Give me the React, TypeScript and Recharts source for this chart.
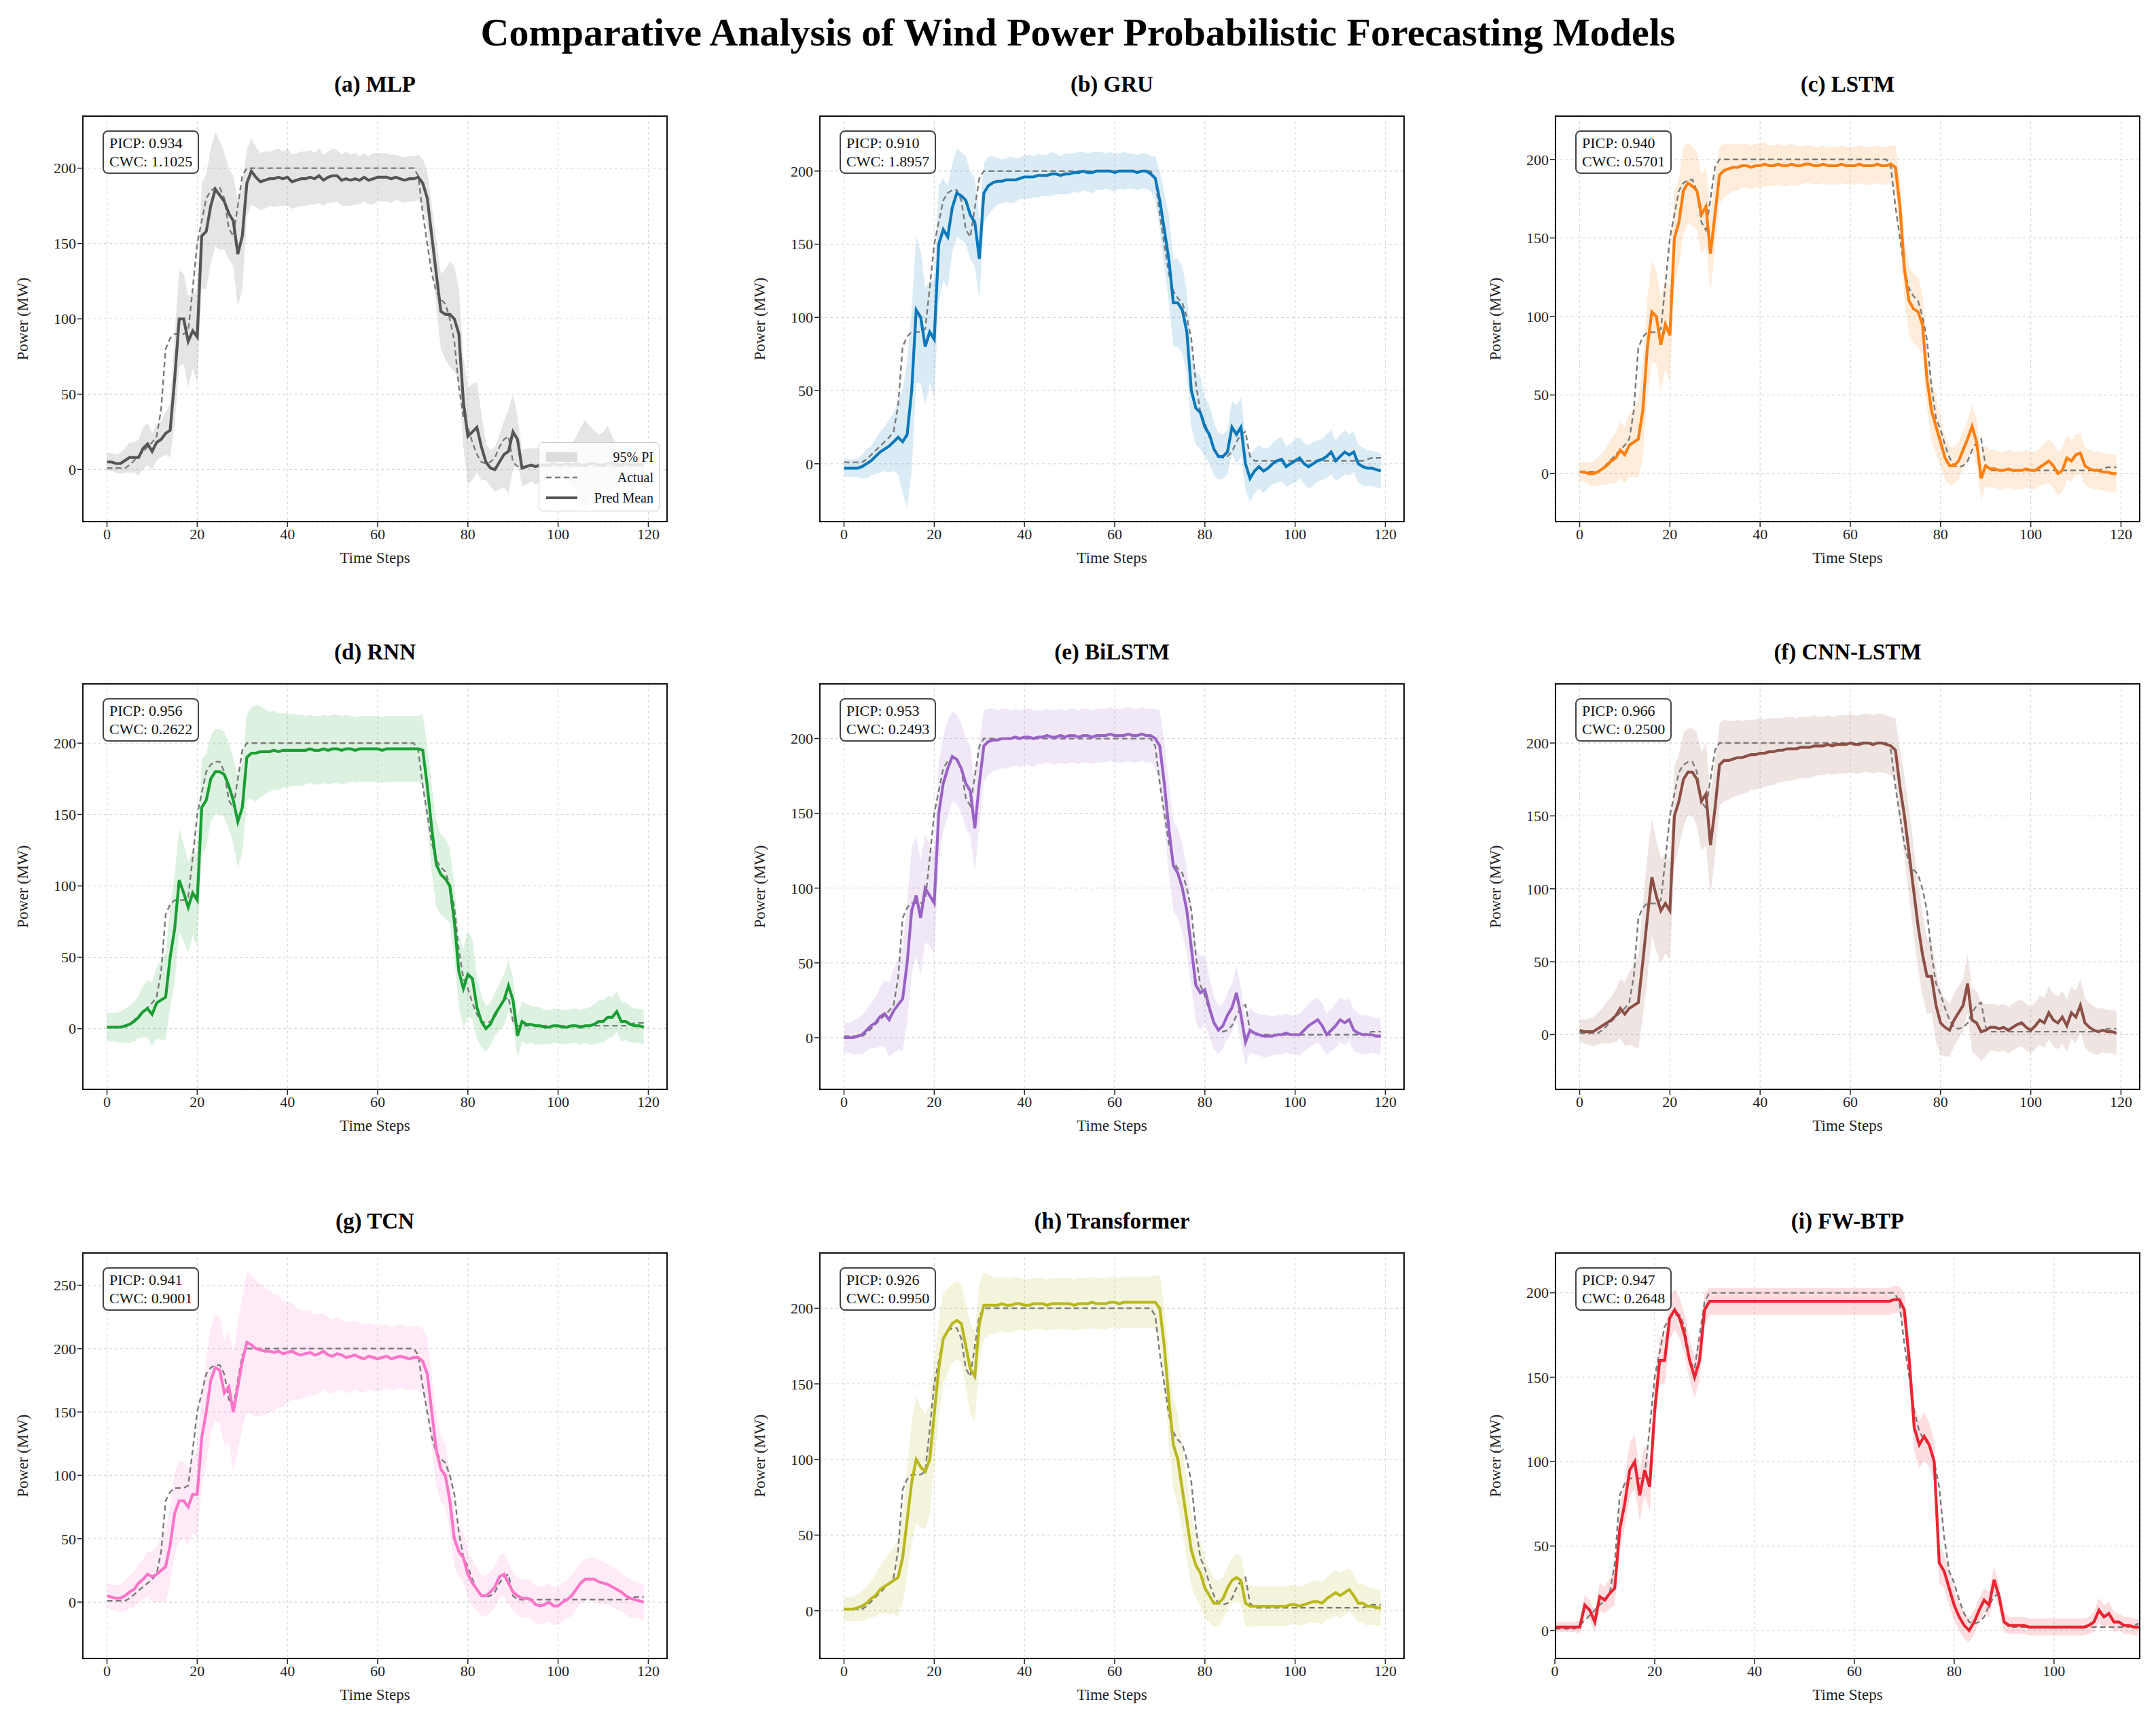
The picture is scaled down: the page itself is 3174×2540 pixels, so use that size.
import React from 'react';
import { ComposedChart, Line, Area, XAxis, YAxis, CartesianGrid } from 'recharts';

const steps = Array.from({ length: 120 }, (_, i) => i);

const actual = [1,1,1,1,1,3,6,9,12,15,18,22,40,80,87,90,90,90,92,120,150,165,180,185,187,187,180,160,155,175,195,200,
200,200,200,200,200,200,200,200,200,200,200,200,200,200,200,200,200,200,200,200,200,200,200,200,200,200,200,200,200,200,200,200,200,200,200,200,200,
195,170,150,130,118,113,110,100,85,55,35,28,18,10,5,4,5,8,15,20,22,5,2,
2,2,2,2,2,2,2,2,2,2,2,2,2,2,2,2,2,2,2,2,2,2,2,2,3,4,4,4];

const predMLP = [5,5,4,4,6,8,8,8,14,17,12,18,20,24,26,60,100,100,85,92,88,155,158,175,186,182,178,170,165,143,155,190,
198,194,191,192,193,193,194,193,194,191,192,193,193,194,193,195,192,194,195,195,192,193,192,193,192,194,192,193,194,194,194,193,194,193,192,193,193,
194,190,180,155,130,105,103,103,100,90,45,22,25,28,15,5,1,0,5,10,12,25,20,
1,2,3,2,3,3,3,4,3,3,4,3,4,3,3,4,4,3,3,4,4,3,3,4,3,3,3,3];
const hwMLP = [6,6,6,7,8,10,10,12,14,14,12,12,12,14,18,30,32,30,30,25,30,35,38,38,38,36,32,30,30,35,35,22,
22,20,19,19,18,19,19,18,19,18,18,18,18,18,17,18,17,17,18,17,17,18,17,17,16,16,16,17,16,16,16,16,15,15,15,15,15,
15,16,18,20,22,25,30,35,35,30,30,32,32,30,22,12,12,15,18,22,28,25,15,
12,12,11,12,11,10,10,10,10,10,12,14,18,25,30,25,22,20,22,25,18,14,10,8,6,5,5,5];

const predGRU = [-3,-3,-3,-3,-2,0,2,5,8,10,12,15,18,15,20,50,105,100,80,90,85,150,160,155,175,185,183,180,170,165,140,185,
190,192,193,193,194,194,194,195,196,196,196,197,197,197,198,198,197,198,198,199,199,200,199,199,200,200,200,200,199,200,200,200,200,199,200,200,198,
195,180,160,140,110,110,105,90,50,38,35,25,20,10,5,5,8,25,20,25,0,-10,-5,
-2,-5,-3,0,2,3,-2,0,2,4,0,-2,0,2,3,5,8,2,5,8,6,8,0,-2,-3,-3,-4,-5];
const hwGRU = [6,6,6,6,8,10,10,12,14,15,18,20,25,35,50,55,50,45,40,35,40,40,35,35,30,30,30,30,30,30,28,20,
20,18,16,15,15,16,15,14,15,15,14,15,14,14,15,14,13,14,14,13,14,13,13,14,13,13,12,13,13,12,13,12,12,12,12,12,12,
15,20,25,30,30,30,30,28,25,25,25,20,20,18,16,15,15,18,20,20,18,16,15,
15,15,14,14,15,15,14,14,15,14,14,15,15,14,14,15,15,14,15,15,14,14,13,13,12,12,12,12];

const predLSTM = [1,1,0,0,1,3,5,8,10,15,12,18,20,22,40,80,103,100,82,95,88,150,160,180,185,183,180,165,170,140,165,190,
193,194,195,195,196,196,195,196,196,197,196,196,197,196,196,197,196,196,197,197,196,196,197,196,196,196,197,196,196,196,197,196,196,196,197,196,196,
197,195,170,130,110,105,103,95,60,40,30,20,10,5,5,8,15,22,30,20,-3,5,3,
3,2,2,3,2,2,2,3,2,2,4,6,8,5,0,2,10,8,12,13,5,3,2,2,1,1,0,0];
const hwLSTM = [6,6,7,8,9,10,12,14,16,18,18,20,22,25,30,32,32,30,30,28,30,30,28,28,26,25,25,25,25,25,22,18,
17,16,15,15,14,14,14,14,14,14,13,13,13,13,13,13,13,12,12,12,12,12,12,12,12,12,12,12,12,12,12,12,12,12,12,12,12,
12,14,18,20,22,22,22,20,18,18,18,15,14,12,12,12,12,12,14,15,14,13,12,
12,12,12,12,12,12,12,12,12,12,12,13,14,14,14,14,14,13,13,13,12,12,12,12,12,12,12,12];

const predRNN = [1,1,1,1,2,3,5,8,12,14,10,18,20,22,50,70,104,95,85,95,90,155,160,175,180,180,178,170,160,145,155,190,
193,193,194,194,194,195,194,195,195,195,195,195,195,196,195,195,196,195,196,196,195,196,196,195,196,196,196,196,196,195,196,196,196,196,196,196,196,
196,195,170,140,115,108,105,100,75,40,28,38,35,15,5,0,3,10,15,20,30,20,-5,
5,3,3,2,2,1,1,2,2,1,1,2,2,1,2,2,3,5,5,8,8,12,5,5,3,2,2,1];
const hwRNN = [10,10,10,11,12,13,14,15,18,20,22,25,28,30,35,38,36,34,32,30,32,34,32,30,30,30,30,30,30,32,32,30,
32,34,32,30,28,28,27,26,26,25,25,25,24,24,24,24,24,24,24,24,24,24,23,23,23,23,23,23,23,23,23,23,23,23,23,23,23,
23,25,28,30,30,28,28,26,25,25,28,30,28,22,18,16,15,15,16,18,18,16,15,
14,14,13,13,13,12,12,12,12,12,12,12,12,12,12,13,14,15,15,15,14,14,14,13,13,12,12,12];

const predBiLSTM = [0,0,0,1,2,5,8,10,14,16,12,18,22,26,50,85,95,80,100,95,90,150,170,180,188,186,180,170,165,140,170,195,
198,199,199,200,200,200,201,200,201,201,200,201,201,202,201,201,202,201,202,202,201,202,202,201,202,202,202,203,202,202,202,203,202,202,203,202,202,
200,195,170,140,115,110,100,85,60,35,30,32,20,10,5,8,15,20,30,15,-3,5,3,
2,1,1,1,2,2,3,2,2,2,5,8,10,12,8,2,5,8,12,10,12,5,3,2,2,2,1,1];
const hwBiLSTM = [10,10,11,12,13,14,15,17,20,22,25,28,30,35,40,42,40,38,36,34,34,34,32,32,30,30,30,30,30,30,28,24,
22,21,20,20,20,19,19,19,19,19,19,18,18,18,18,18,18,18,18,18,18,18,18,18,18,18,18,18,18,18,18,18,18,18,18,18,18,
20,24,28,30,30,30,30,28,26,25,25,22,20,18,16,15,15,16,18,18,16,15,14,
14,14,14,13,13,13,13,13,13,14,14,15,15,15,15,14,14,15,15,15,14,14,13,13,13,12,12,12];

const predCNN = [3,2,2,2,4,6,8,10,13,18,14,18,20,22,50,80,108,95,85,90,85,150,160,175,180,180,175,160,165,130,155,185,
188,188,189,190,190,191,192,192,193,193,194,194,195,195,196,196,196,197,197,197,198,198,198,199,198,199,199,199,200,199,199,200,200,199,200,200,199,
198,195,170,150,125,100,75,55,40,40,20,8,5,3,10,15,20,35,10,8,2,3,5,
5,4,5,3,5,7,8,5,3,6,10,8,15,10,8,12,6,15,12,20,8,5,3,2,3,2,2,1];
const hwCNN = [8,8,9,10,11,12,14,16,18,20,22,25,28,32,38,42,40,38,36,34,34,34,32,32,30,30,32,34,35,35,32,28,
28,27,26,26,25,25,24,24,24,23,23,23,22,22,22,22,21,21,21,21,21,20,20,20,20,20,20,20,20,20,20,20,20,20,20,20,20,
20,22,25,28,30,30,30,28,26,25,25,22,20,18,18,18,18,20,22,22,20,18,16,
16,16,16,16,16,16,16,16,16,16,17,17,18,18,18,18,18,18,18,18,17,17,16,16,15,15,15,15];

const predTCN = [5,4,3,3,5,8,10,15,18,22,20,22,25,28,45,70,80,80,75,85,85,130,150,175,185,183,165,170,150,170,190,205,
203,200,199,198,198,197,198,196,197,198,196,195,196,197,195,196,198,195,194,196,195,193,194,195,193,192,194,193,192,193,194,192,193,194,193,192,193,
193,190,180,150,120,105,100,80,50,40,35,22,15,10,5,5,8,12,20,22,15,8,5,
3,3,2,-2,-3,-2,0,-3,-3,0,2,5,10,15,18,18,18,16,15,14,12,10,8,5,3,2,1,0];
const hwTCN = [10,10,10,11,12,13,14,15,16,18,20,22,25,28,30,32,32,30,30,30,34,38,40,42,42,42,42,44,46,50,52,55,
55,54,52,50,48,46,44,42,40,38,36,35,34,33,32,31,30,30,29,29,28,28,28,27,27,27,26,26,26,26,25,25,25,25,25,25,25,
25,26,28,28,28,26,25,24,22,20,20,18,18,17,16,16,16,16,17,17,16,15,15,
15,15,15,15,15,15,15,15,15,15,15,16,16,16,16,17,17,17,17,16,16,16,15,15,15,14,14,14];

const predTrans = [1,1,1,2,3,5,8,10,14,16,18,20,22,35,60,85,100,95,92,100,130,160,180,185,190,192,190,175,160,155,190,202,
202,202,202,203,202,202,203,203,202,202,203,203,203,202,203,203,203,203,203,202,203,203,203,204,203,203,203,204,204,203,204,204,204,204,204,204,204,
204,200,175,140,110,100,80,60,40,30,25,15,10,5,5,8,15,20,22,20,5,3,3,
3,3,3,3,3,3,3,4,4,3,4,5,6,6,5,8,10,12,10,12,14,10,5,5,3,3,2,2];
const hwTrans = [8,8,8,9,10,11,12,14,16,18,20,22,26,30,36,40,42,40,38,36,34,32,30,28,26,26,26,28,30,30,26,22,
20,19,18,18,18,18,18,17,17,17,17,17,17,17,17,17,17,17,17,17,17,17,17,17,17,17,17,17,17,17,17,17,17,17,17,17,17,
18,22,26,28,30,30,28,26,24,22,22,20,18,16,15,14,14,15,16,16,15,14,13,
13,13,13,13,13,13,13,13,13,13,13,13,14,14,14,14,15,15,15,15,14,14,13,13,13,12,12,12];

const predFW = [2,2,2,2,2,2,15,12,5,20,18,22,25,60,75,95,100,80,95,85,130,160,160,185,190,185,175,160,150,160,190,195,
195,195,195,195,195,195,195,195,195,195,195,195,195,195,195,195,195,195,195,195,195,195,195,195,195,195,195,195,195,195,195,195,195,195,195,195,196,
196,190,160,120,110,115,110,100,40,35,25,15,8,3,0,5,12,18,15,30,20,5,3,
3,3,3,2,2,2,2,2,2,2,2,2,2,2,2,3,5,12,8,10,5,5,3,3,2,2,2,2];
const hwFW = [3,3,3,3,3,4,6,6,6,8,8,9,10,12,14,16,16,15,15,14,14,14,14,13,12,12,12,12,12,12,10,8,
8,8,8,8,8,8,8,8,8,8,8,8,8,8,8,8,8,8,8,8,8,8,8,8,8,8,8,8,8,8,8,8,8,8,8,8,8,
8,10,12,14,14,14,13,12,12,10,10,9,8,8,7,7,7,7,8,8,7,6,5,
5,5,5,5,5,5,5,5,5,5,5,5,5,5,5,5,6,7,7,7,6,5,5,5,5,5,5,5];

const panelTitles = ['(a) MLP','(b) GRU','(c) LSTM','(d) RNN','(e) BiLSTM','(f) CNN-LSTM','(g) TCN','(h) Transformer','(i) FW-BTP'];
const picp = ['0.934','0.910','0.940','0.956','0.953','0.966','0.941','0.926','0.947'];
const cwc = ['1.1025','1.8957','0.5701','0.2622','0.2493','0.2500','0.9001','0.9950','0.2648'];
const preds = [predMLP, predGRU, predLSTM, predRNN, predBiLSTM, predCNN, predTCN, predTrans, predFW];
const hws = [hwMLP, hwGRU, hwLSTM, hwRNN, hwBiLSTM, hwCNN, hwTCN, hwTrans, hwFW];
const colors = ['#555555','#0a78ba','#ff7f0e','#1a9e33','#9a62c6','#8c4f45','#ff73c8','#b8b81c','#ea2430'];
const yDomains: [number, number][] = [[-35,235],[-40,238],[-31,228],[-43,242],[-35,237],[-38,241],[-45,276],[-32,237],[-17,224]];
const yTicksList = [[0,50,100,150,200],[0,50,100,150,200],[0,50,100,150,200],[0,50,100,150,200],[0,50,100,150,200],[0,50,100,150,200],[0,50,100,150,200,250],[0,50,100,150,200],[0,50,100,150,200]];

const colLeft = [121, 1206, 2289];
const rowTop = [170, 1006, 1844];
const PW = 862, PH = 599;
const font = '"Liberation Serif", "Times New Roman", serif';

function Panel({ i }: { i: number }) {
  const data = steps.map((t, k) => ({
    t, actual: actual[k], pred: preds[i][k], band: [preds[i][k] - hws[i][k], preds[i][k] + hws[i][k]],
  }));
  const left = colLeft[i % 3], top = rowTop[Math.floor(i / 3)];
  const isLast = i === 8;
  const xDomain: [number, number] = isLast ? [0, 117.3] : [-5.5, 124.3];
  const xTicks = isLast ? [0,20,40,60,80,100] : [0,20,40,60,80,100,120];
  const c = colors[i];
  return (
    <>
      <div style={{ position:'absolute', left, top: top - 64, width: PW, textAlign:'center', fontFamily: font, fontWeight:'bold', fontSize: 33 }}>{panelTitles[i]}</div>
      <div style={{ position:'absolute', left: left - 120, top: top - 10 }}>
        <ComposedChart width={992} height={699} data={data} margin={{ top: 10, right: 10, bottom: 0, left: 10 }}>
          <CartesianGrid stroke="#d8d8d8" strokeDasharray="4 4" strokeWidth={1.2} />
          <XAxis dataKey="t" type="number" domain={xDomain} ticks={xTicks} allowDataOverflow height={90}
            tick={{ fontFamily: font, fontSize: 22, fill: '#222' }} tickSize={7} axisLine={false} tickLine={{ stroke: '#222', strokeWidth: 1.5 }}
            label={{ value: 'Time Steps', position: 'insideBottom', offset: 30, style: { fontFamily: font, fontSize: 23, fill: '#222' } }} />
          <YAxis type="number" domain={yDomains[i]} ticks={yTicksList[i]} allowDataOverflow width={110}
            tick={{ fontFamily: font, fontSize: 22, fill: '#222' }} tickSize={7} axisLine={false} tickLine={{ stroke: '#222', strokeWidth: 1.5 }}
            label={{ value: 'Power (MW)', angle: -90, position: 'insideLeft', offset: 22, style: { fontFamily: font, fontSize: 23, fill: '#222', textAnchor: 'middle' } }} />
          <Area dataKey="band" type="linear" stroke="none" fill={i === 0 ? '#999999' : c} fillOpacity={i === 0 ? 0.25 : 0.15} isAnimationActive={false} />
          <Line dataKey="actual" type="linear" stroke="#7a7a7a" strokeWidth={2.4} strokeDasharray="8 5" dot={false} isAnimationActive={false} />
          <Line dataKey="pred" type="linear" stroke={c} strokeWidth={4.2} dot={false} isAnimationActive={false} />
        </ComposedChart>
      </div>
      <div style={{ position:'absolute', left, top, width: PW, height: PH, border: '2.4px solid #111', boxSizing:'border-box', pointerEvents:'none' }} />
      <div style={{ position:'absolute', left: left + 30, top: top + 22, padding: '3px 8px', border: '2px solid #444', borderRadius: 8, background: 'rgba(255,255,255,0.9)', fontFamily: font, fontSize: 22, lineHeight: '27px', color: '#111' }}>
        <div>PICP: {picp[i]}</div>
        <div>CWC: {cwc[i]}</div>
      </div>
      {i === 0 && (
        <div style={{ position:'absolute', left: left + PW - 190, top: top + PH - 118, width: 178, height: 102, border: '1.5px solid #ccc', borderRadius: 6, background: 'rgba(255,255,255,0.85)', fontFamily: font, fontSize: 20, color: '#111', boxSizing:'border-box', padding: '6px 8px' }}>
          {[0,1,2].map(k => (
            <div key={k} style={{ display:'flex', alignItems:'center', height: 30 }}>
              <svg width={50} height={20} style={{ marginRight: 14 }}>
                {k === 0 && <rect x={2} y={3} width={46} height={14} fill="#999" fillOpacity={0.3} />}
                {k === 1 && <line x1={2} y1={10} x2={48} y2={10} stroke="#7a7a7a" strokeWidth={2.4} strokeDasharray="8 5" />}
                {k === 2 && <line x1={2} y1={10} x2={48} y2={10} stroke="#555" strokeWidth={4.2} />}
              </svg>
              <span style={{ flex: 1, textAlign: 'right' }}>{['95% PI','Actual','Pred Mean'][k]}</span>
            </div>
          ))}
        </div>
      )}
    </>
  );
}

export default function App() {
  return (
    <div style={{ position:'relative', width: 3174, height: 2540, background:'#fff', margin: -8 }}>
      <div style={{ position:'absolute', left:0, top: 14, width: 3174, textAlign:'center', fontFamily: font, fontWeight:'bold', fontSize: 58 }}>
        Comparative Analysis of Wind Power Probabilistic Forecasting Models
      </div>
      {panelTitles.map((_, i) => <Panel key={i} i={i} />)}
    </div>
  );
}
